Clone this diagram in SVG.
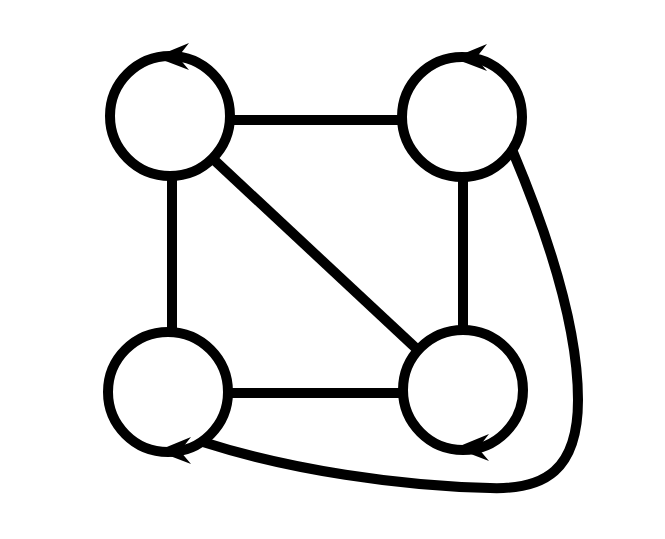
<svg xmlns="http://www.w3.org/2000/svg" width="665" height="539" viewBox="0 0 665 539">
<style>
.node{fill:#fff;stroke:#000;stroke-width:10}
.edge{fill:none;stroke:#000;stroke-width:10}
.head{fill:#000}
</style>
<defs>
<path id="ah" d="M0,0 L34,-14 L23,0 L34,13 Z"/>
</defs>
<rect width="665" height="539" fill="#fff"/>
<g id="connectors">
<line class="edge" x1="230" y1="120" x2="402" y2="120"/>
<line class="edge" x1="172" y1="175" x2="172" y2="332"/>
<line class="edge" x1="463" y1="175" x2="463" y2="330"/>
<line class="edge" x1="228" y1="393" x2="405" y2="393"/>
<line class="edge" x1="212" y1="158" x2="420" y2="352"/>
<path class="edge" d="M513,152 C550,240 578,330 578,400 C578,470 545,490 490,488 C400,486 290,470 203,442"/>
</g>
<g id="n1"><circle class="node" cx="170" cy="116" r="60"/><use href="#ah" class="head" x="155" y="57"/></g>
<g id="n2"><circle class="node" cx="462" cy="117" r="60"/><use href="#ah" class="head" x="453" y="58"/></g>
<g id="n3"><circle class="node" cx="168" cy="392" r="60"/><use href="#ah" class="head" x="157" y="451"/></g>
<g id="n4"><circle class="node" cx="463" cy="390" r="60"/><use href="#ah" class="head" x="455" y="448"/></g>
</svg>
